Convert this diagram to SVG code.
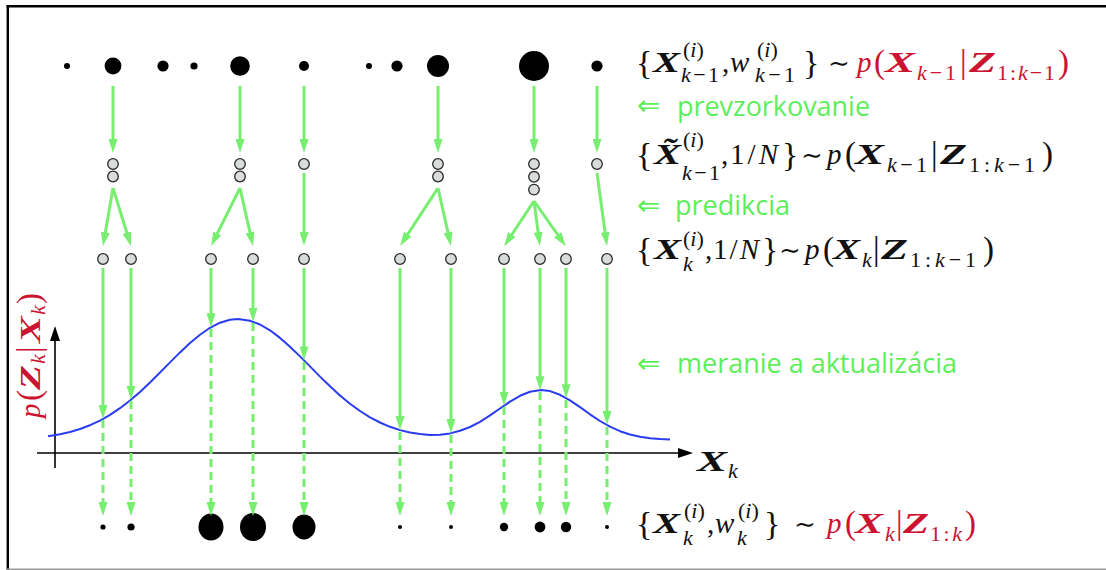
<svg xmlns="http://www.w3.org/2000/svg" width="1106" height="570" viewBox="0 0 1106 570">
<defs>
<marker id="ga" markerUnits="userSpaceOnUse" markerWidth="14" markerHeight="9" viewBox="0 0 14 9" refX="4" refY="4.5" orient="auto"><path d="M0,0 L14,4.5 L0,9 Z" fill="#78ee70"/></marker>
<marker id="ka" markerUnits="userSpaceOnUse" markerWidth="15" markerHeight="10" viewBox="0 0 15 10" refX="3" refY="5" orient="auto"><path d="M0,0 L15,5 L0,10 Z" fill="#000"/></marker>
</defs>
<style>
.dot{fill:#000}
.pc{fill:#d9dcdc;stroke:#2a2a2a;stroke-width:1.3}
.cn{stroke:#78ee70;stroke-width:3;fill:none;marker-end:url(#ga)}
.dash{stroke-dasharray:8 5}
.m{font-family:"Liberation Serif","DejaVu Serif",serif;font-size:29px;fill:#111}
.i{font-style:italic}
.b{font-weight:bold;font-style:italic}
.s{font-size:22px}
.d{font-size:33px}
.br{font-size:34px}
.t{font-size:26px}
.r{fill:#cc1430}
.g{font-family:"Open Sans","Liberation Sans",sans-serif;font-size:27px;fill:#5eee5a}
.ga{font-family:"DejaVu Sans",sans-serif;font-size:28px;fill:#5eee5a}
</style>
<rect width="1106" height="570" fill="#fff"/>
<g id="frame">
<line x1="6.6" y1="6.3" x2="1106" y2="6.3" stroke="#000" stroke-width="2.4"/>
<line x1="7.8" y1="5" x2="7.8" y2="570" stroke="#000" stroke-width="2.4"/>
<line x1="7" y1="569.2" x2="1106" y2="569.2" stroke="#999" stroke-width="1.6"/>
</g>
<g id="likelihood">
<line x1="37" y1="453" x2="681" y2="453" stroke="#000" stroke-width="1.6" marker-end="url(#ka)"/>
<line x1="55" y1="468" x2="55" y2="338" stroke="#000" stroke-width="1.6" marker-end="url(#ka)"/>
<path d="M48,436.2 L60,434.2 L70,432 L80,429 L90,425.2 L100,420.6 L110,414.9 L120,408.2 L130,400.5 L140,391.9 L150,382.5 L160,372.5 L170,362.4 L180,352.4 L190,343 L200,334.7 L210,327.8 L220,322.7 L230,319.7 L238,319 L250,320.7 L260,324.5 L270,330.3 L280,337.9 L290,346.7 L300,356.4 L310,366.4 L320,376.6 L330,386.3 L340,395.4 L350,403.7 L360,411 L370,417.3 L380,422.5 L390,426.8 L400,430.1 L410,432.5 L420,434.1 L430,434.9 L440,434.7 L450,433.4 L460,430.8 L470,427 L480,421.8 L490,415.4 L500,408.5 L510,401.7 L520,395.8 L530,391.7 L541,390 L550,391.1 L560,394.8 L570,400.4 L580,407.2 L590,414.3 L600,421 L610,426.7 L620,431.2 L630,434.5 L640,436.7 L650,438.2 L660,439 L670,439.5" fill="none" stroke="#2a3cf0" stroke-width="2" stroke-linejoin="round"/>
<g id="axis-x-label"><text class="m b" x="697" y="471" textLength="30" lengthAdjust="spacingAndGlyphs">X</text><text class="m i s" x="728" y="478">k</text></g>
<g id="axis-y-label" transform="translate(40,420) rotate(-90)">
<text class="m i r" x="2" y="0" font-size="30">p</text>
<text class="m d r" x="19" y="0" font-size="34">(</text>
<text class="m b r" x="30" y="0" textLength="25" lengthAdjust="spacingAndGlyphs">Z</text>
<text class="m i s r" x="56" y="5">k</text>
<text class="m d r" x="67" y="0" font-size="34">|</text>
<text class="m b r" x="77" y="0" textLength="27" lengthAdjust="spacingAndGlyphs">X</text>
<text class="m i s r" x="105" y="5">k</text>
<text class="m d r" x="116" y="0" font-size="34">)</text>
</g>
</g>
<g id="particles-prior">
<g id="a1"><circle class="dot" cx="67" cy="66" r="3"/></g>
<g id="a2"><circle class="dot" cx="113" cy="66" r="8.4"/></g>
<g id="a3"><circle class="dot" cx="163" cy="66" r="5.6"/></g>
<g id="a4"><circle class="dot" cx="194" cy="66" r="3.6"/></g>
<g id="a5"><circle class="dot" cx="240" cy="66" r="9.8"/></g>
<g id="a6"><circle class="dot" cx="304" cy="66" r="5"/></g>
<g id="a7"><circle class="dot" cx="369" cy="66" r="3"/></g>
<g id="a8"><circle class="dot" cx="397" cy="66" r="5.6"/></g>
<g id="a9"><circle class="dot" cx="438" cy="66" r="11"/></g>
<g id="a10"><circle class="dot" cx="534" cy="66" r="15"/></g>
<g id="a11"><circle class="dot" cx="597" cy="66" r="5.6"/></g>
</g>
<g id="particles-resampled">
<g id="b1"><circle class="pc" cx="113" cy="164" r="5.3"/><circle class="pc" cx="113" cy="176.5" r="5.3"/></g>
<g id="b2"><circle class="pc" cx="240" cy="164" r="5.3"/><circle class="pc" cx="240" cy="176.5" r="5.3"/></g>
<g id="b3"><circle class="pc" cx="304" cy="164" r="5.3"/></g>
<g id="b4"><circle class="pc" cx="438" cy="164" r="5.3"/><circle class="pc" cx="438" cy="176.5" r="5.3"/></g>
<g id="b5"><circle class="pc" cx="534" cy="164" r="5.3"/><circle class="pc" cx="534" cy="176.8" r="5.3"/><circle class="pc" cx="534" cy="189.6" r="5.3"/></g>
<g id="b6"><circle class="pc" cx="597" cy="164" r="5.3"/></g>
</g>
<g id="particles-predicted">
<g id="c1"><circle class="pc" cx="103" cy="259" r="5.3"/></g>
<g id="c2"><circle class="pc" cx="131" cy="259" r="5.3"/></g>
<g id="c3"><circle class="pc" cx="211" cy="259" r="5.3"/></g>
<g id="c4"><circle class="pc" cx="253" cy="259" r="5.3"/></g>
<g id="c5"><circle class="pc" cx="304" cy="259" r="5.3"/></g>
<g id="c6"><circle class="pc" cx="400" cy="259" r="5.3"/></g>
<g id="c7"><circle class="pc" cx="451" cy="259" r="5.3"/></g>
<g id="c8"><circle class="pc" cx="504" cy="259" r="5.3"/></g>
<g id="c9"><circle class="pc" cx="540" cy="259" r="5.3"/></g>
<g id="c10"><circle class="pc" cx="566" cy="259" r="5.3"/></g>
<g id="c11"><circle class="pc" cx="607" cy="259" r="5.3"/></g>
</g>
<g id="particles-posterior">
<g id="d1"><circle class="dot" cx="103" cy="527" r="2.6"/></g>
<g id="d2"><circle class="dot" cx="131" cy="527" r="3.6"/></g>
<g id="d3"><ellipse class="dot" cx="211" cy="527" rx="12.5" ry="13.5"/></g>
<g id="d4"><ellipse class="dot" cx="253" cy="527" rx="13" ry="14"/></g>
<g id="d5"><ellipse class="dot" cx="304" cy="527" rx="11.5" ry="12.5"/></g>
<g id="d6"><circle class="dot" cx="400" cy="527" r="2"/></g>
<g id="d7"><circle class="dot" cx="451" cy="527" r="2"/></g>
<g id="d8"><circle class="dot" cx="504" cy="527" r="4.2"/></g>
<g id="d9"><circle class="dot" cx="540" cy="527" r="5.4"/></g>
<g id="d10"><circle class="dot" cx="566" cy="527" r="5.2"/></g>
<g id="d11"><circle class="dot" cx="607" cy="527" r="2"/></g>
</g>
<g id="connectors">
<line class="cn" x1="113" y1="86" x2="113" y2="143"/>
<line class="cn" x1="240" y1="86" x2="240" y2="143"/>
<line class="cn" x1="304" y1="86" x2="304" y2="143"/>
<line class="cn" x1="438" y1="86" x2="438" y2="143"/>
<line class="cn" x1="534" y1="86" x2="534" y2="143"/>
<line class="cn" x1="597" y1="86" x2="597" y2="143"/>
<line class="cn" x1="113" y1="188" x2="104.7" y2="236.2"/>
<line class="cn" x1="113" y1="188" x2="128" y2="236.5"/>
<line class="cn" x1="240" y1="188" x2="215.5" y2="237.1"/>
<line class="cn" x1="240" y1="188" x2="250.8" y2="236.2"/>
<line class="cn" x1="304" y1="173" x2="304" y2="236"/>
<line class="cn" x1="438" y1="188" x2="405.5" y2="237.6"/>
<line class="cn" x1="438" y1="188" x2="448.8" y2="236.2"/>
<line class="cn" x1="534" y1="201" x2="509.7" y2="237.8"/>
<line class="cn" x1="534" y1="201" x2="538.6" y2="236.1"/>
<line class="cn" x1="534" y1="201" x2="560" y2="238"/>
<line class="cn" x1="597" y1="173" x2="605.6" y2="236.1"/>
<line class="cn" x1="103" y1="268" x2="103" y2="409"/>
<line class="cn" x1="131" y1="268" x2="131" y2="389.6"/>
<line class="cn" x1="211" y1="268" x2="211" y2="317.3"/>
<line class="cn" x1="253" y1="268" x2="253" y2="311.8"/>
<line class="cn" x1="304" y1="268" x2="304" y2="350.4"/>
<line class="cn" x1="400" y1="268" x2="400" y2="420.1"/>
<line class="cn" x1="451" y1="268" x2="451" y2="423.1"/>
<line class="cn" x1="504" y1="268" x2="504" y2="395.8"/>
<line class="cn" x1="540" y1="268" x2="540" y2="380.2"/>
<line class="cn" x1="566" y1="268" x2="566" y2="388.2"/>
<line class="cn" x1="607" y1="268" x2="607" y2="415"/>
<line class="cn dash" x1="103" y1="420" x2="103" y2="506"/>
<line class="cn dash" x1="131" y1="401" x2="131" y2="506"/>
<line class="cn dash" x1="211" y1="329" x2="211" y2="506"/>
<line class="cn dash" x1="253" y1="323" x2="253" y2="506"/>
<line class="cn dash" x1="304" y1="362" x2="304" y2="506"/>
<line class="cn dash" x1="400" y1="432" x2="400" y2="506"/>
<line class="cn dash" x1="451" y1="435" x2="451" y2="506"/>
<line class="cn dash" x1="504" y1="407" x2="504" y2="506"/>
<line class="cn dash" x1="540" y1="392" x2="540" y2="506"/>
<line class="cn dash" x1="566" y1="400" x2="566" y2="506"/>
<line class="cn dash" x1="607" y1="427" x2="607" y2="506"/>
</g>
<g id="label-prior">
<text class="m br" x="636" y="74">{</text>
<text class="m b" x="653" y="72" textLength="27" lengthAdjust="spacingAndGlyphs">X</text>
<text class="m s" x="683" y="57">(<tspan class="i">i</tspan>)</text>
<text class="m s" x="681" y="81.5" textLength="38"><tspan class="i">k</tspan>−1</text>
<text class="m" x="722" y="72">,</text>
<text class="m i" x="730" y="72">w</text>
<text class="m s" x="757" y="57">(<tspan class="i">i</tspan>)</text>
<text class="m s" x="755" y="81.5" textLength="40"><tspan class="i">k</tspan>−1</text>
<text class="m br" x="803" y="74">}</text>
<text class="m t" x="828" y="72">∼</text>
<text class="m i r" x="857" y="72">p</text>
<text class="m d r" x="874" y="73">(</text>
<text class="m b r" x="885" y="72" textLength="30" lengthAdjust="spacingAndGlyphs">X</text>
<text class="m s r" x="917" y="80" textLength="39"><tspan class="i">k</tspan>−1</text>
<text class="m d r" x="960" y="73">|</text>
<text class="m b r" x="969" y="72" textLength="27" lengthAdjust="spacingAndGlyphs">Z</text>
<text class="m s r" x="997" y="80" textLength="58">1:<tspan class="i">k</tspan>−1</text>
<text class="m d r" x="1058" y="73">)</text>
</g>
<g id="label-resampled">
<text class="m br" x="636" y="166">{</text>
<text class="m b" x="654" y="164" textLength="27" lengthAdjust="spacingAndGlyphs">X̃</text>
<text class="m s" x="683" y="147">(<tspan class="i">i</tspan>)</text>
<text class="m s" x="682" y="180" textLength="38"><tspan class="i">k</tspan>−1</text>
<text class="m" x="721" y="164">,</text>
<text class="m" x="730" y="164" textLength="48">1/<tspan class="i">N</tspan></text>
<text class="m br" x="782" y="166">}</text>
<text class="m t" x="801" y="164">∼</text>
<text class="m i" x="827" y="164">p</text>
<text class="m d" x="845" y="165">(</text>
<text class="m b" x="855" y="164" textLength="29" lengthAdjust="spacingAndGlyphs">X</text>
<text class="m s" x="887" y="172" textLength="40"><tspan class="i">k</tspan>−1</text>
<text class="m d" x="931" y="165">|</text>
<text class="m b" x="940" y="164" textLength="27" lengthAdjust="spacingAndGlyphs">Z</text>
<text class="m s" x="969" y="172" textLength="66">1:<tspan class="i">k</tspan>−1</text>
<text class="m d" x="1042" y="165">)</text>
</g>
<g id="label-predicted">
<text class="m br" x="636" y="261">{</text>
<text class="m b" x="654" y="259" textLength="27" lengthAdjust="spacingAndGlyphs">X</text>
<text class="m s" x="683" y="246">(<tspan class="i">i</tspan>)</text>
<text class="m s i" x="683" y="271">k</text>
<text class="m" x="705" y="259">,</text>
<text class="m" x="713" y="259" textLength="46">1/<tspan class="i">N</tspan></text>
<text class="m br" x="762" y="261">}</text>
<text class="m t" x="779" y="259">∼</text>
<text class="m i" x="805" y="259">p</text>
<text class="m d" x="823" y="260">(</text>
<text class="m b" x="833" y="259" textLength="27" lengthAdjust="spacingAndGlyphs">X</text>
<text class="m s i" x="862" y="267">k</text>
<text class="m d" x="873" y="260">|</text>
<text class="m b" x="881" y="259" textLength="27" lengthAdjust="spacingAndGlyphs">Z</text>
<text class="m s" x="910" y="267" textLength="66">1:<tspan class="i">k</tspan>−1</text>
<text class="m d" x="983" y="260">)</text>
</g>
<g id="label-posterior">
<text class="m br" x="636" y="535">{</text>
<text class="m b" x="653" y="533" textLength="27" lengthAdjust="spacingAndGlyphs">X</text>
<text class="m s" x="684" y="518">(<tspan class="i">i</tspan>)</text>
<text class="m s i" x="683" y="545">k</text>
<text class="m" x="707" y="533">,</text>
<text class="m i" x="715" y="533">w</text>
<text class="m s" x="738" y="518">(<tspan class="i">i</tspan>)</text>
<text class="m s i" x="737" y="545">k</text>
<text class="m br" x="764" y="535">}</text>
<text class="m t" x="794" y="533">∼</text>
<text class="m i r" x="827" y="533">p</text>
<text class="m d r" x="845" y="534">(</text>
<text class="m b r" x="855" y="533" textLength="28" lengthAdjust="spacingAndGlyphs">X</text>
<text class="m s i r" x="885" y="541">k</text>
<text class="m d r" x="896" y="534">|</text>
<text class="m b r" x="903" y="533" textLength="26" lengthAdjust="spacingAndGlyphs">Z</text>
<text class="m s r" x="930" y="541" textLength="32">1:<tspan class="i">k</tspan></text>
<text class="m d r" x="965" y="534">)</text>
</g>
<g id="step-labels">
<text class="ga" x="637" y="115">⇐</text>
<text class="g" x="677" y="116" textLength="193" lengthAdjust="spacingAndGlyphs">prevzorkovanie</text>
<text class="ga" x="637" y="215">⇐</text>
<text class="g" x="675" y="215" textLength="115" lengthAdjust="spacingAndGlyphs">predikcia</text>
<text class="ga" x="637" y="373">⇐</text>
<text class="g" x="677" y="373" textLength="280" lengthAdjust="spacingAndGlyphs">meranie a aktualizácia</text>
</g>
</svg>
